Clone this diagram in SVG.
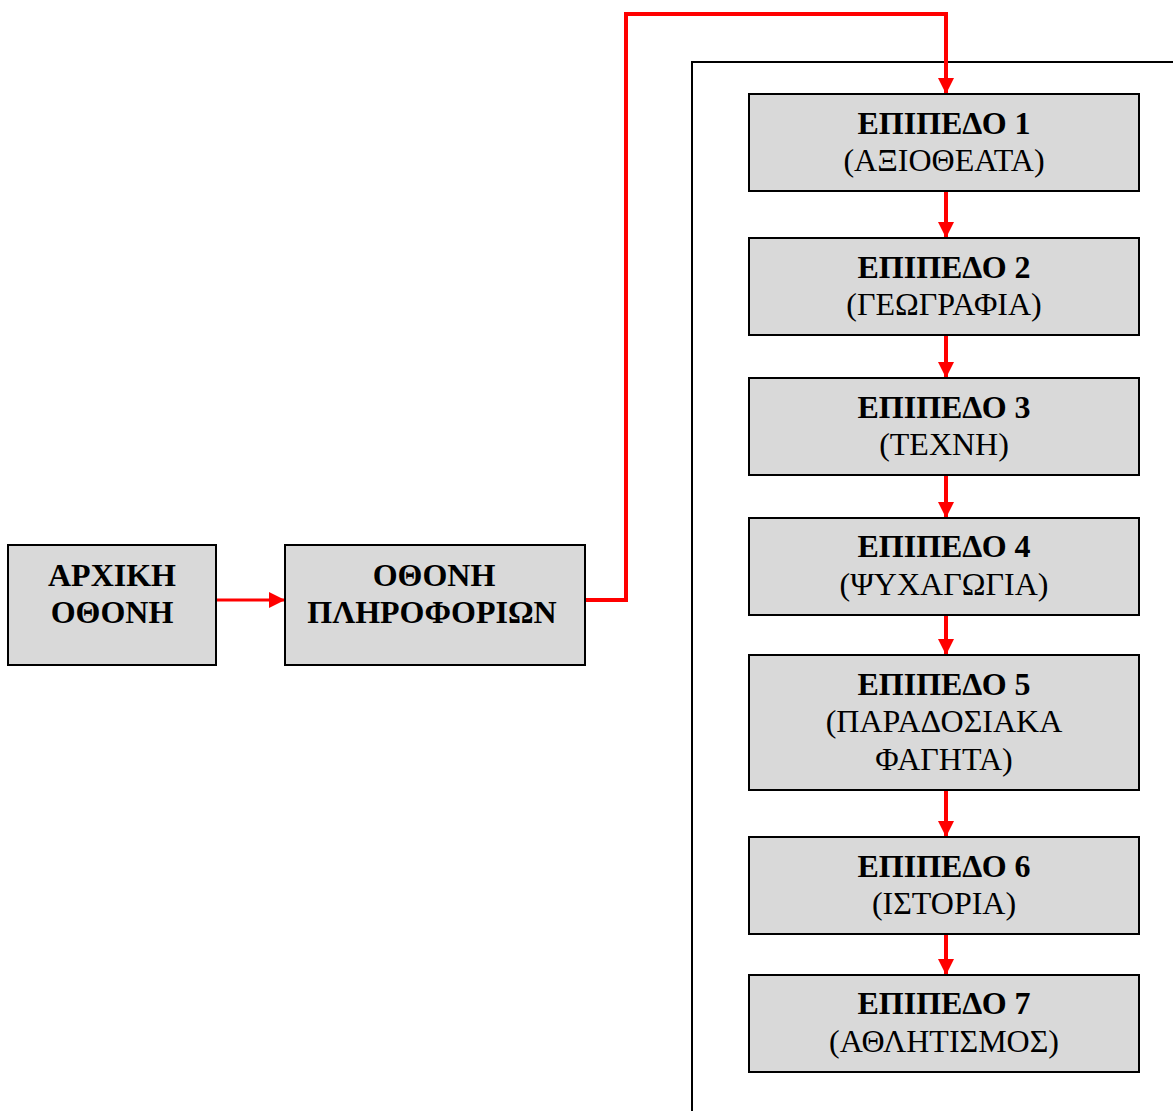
<svg xmlns="http://www.w3.org/2000/svg" width="1173" height="1111" viewBox="0 0 1173 1111">
<style>
.box{fill:#d9d9d9;stroke:#000;stroke-width:2}
.t{font-family:"Liberation Serif","Times New Roman",serif;font-size:32px;text-anchor:middle;fill:#000}
.b{font-weight:bold}
.c{fill:none;stroke:#ff0000;stroke-width:4}
.c2{fill:none;stroke:#ff0000;stroke-width:3}
</style>
<defs>
<marker id="ah" viewBox="0 0 10 10" refX="10" refY="5" markerUnits="userSpaceOnUse" markerWidth="16" markerHeight="16" orient="auto">
<path d="M0,0 L10,5 L0,10 Z" fill="#ff0000"/>
</marker>
</defs>
<g id="frame">
<path d="M692,1111 V62 H1173" fill="none" stroke="#000" stroke-width="2"/>
</g>
<g id="connectors">
<path class="c2" d="M216,600 H285" marker-end="url(#ah)"/>
<path class="c" d="M585,600 H626 V14 H946 V94" marker-end="url(#ah)"/>
<path class="c" d="M946,191 V238" marker-end="url(#ah)"/>
<path class="c" d="M946,335 V378" marker-end="url(#ah)"/>
<path class="c" d="M946,475 V518" marker-end="url(#ah)"/>
<path class="c" d="M946,615 V655" marker-end="url(#ah)"/>
<path class="c" d="M946,790 V837" marker-end="url(#ah)"/>
<path class="c" d="M946,934 V975" marker-end="url(#ah)"/>
</g>
<g id="n-arxiki">
<rect class="box" x="8" y="545" width="208" height="120"/>
<text class="t b" x="112" y="586">ΑΡΧΙΚΗ</text>
<text class="t b" x="112" y="623">ΟΘΟΝΗ</text>
</g>
<g id="n-pliroforion">
<rect class="box" x="285" y="545" width="300" height="120"/>
<text class="t b" x="434" y="586">ΟΘΟΝΗ</text>
<text class="t b" x="432" y="623">ΠΛΗΡΟΦΟΡΙΩΝ</text>
</g>
<g id="n-level1">
<rect class="box" x="749" y="94" width="390" height="97"/>
<text class="t b" x="944" y="134">ΕΠΙΠΕΔΟ 1</text>
<text class="t" x="944" y="171">(ΑΞΙΟΘΕΑΤΑ)</text>
</g>
<g id="n-level2">
<rect class="box" x="749" y="238" width="390" height="97"/>
<text class="t b" x="944" y="278">ΕΠΙΠΕΔΟ 2</text>
<text class="t" x="944" y="315">(ΓΕΩΓΡΑΦΙΑ)</text>
</g>
<g id="n-level3">
<rect class="box" x="749" y="378" width="390" height="97"/>
<text class="t b" x="944" y="418">ΕΠΙΠΕΔΟ 3</text>
<text class="t" x="944" y="455">(ΤΕΧΝΗ)</text>
</g>
<g id="n-level4">
<rect class="box" x="749" y="518" width="390" height="97"/>
<text class="t b" x="944" y="557">ΕΠΙΠΕΔΟ 4</text>
<text class="t" x="944" y="595">(ΨΥΧΑΓΩΓΙΑ)</text>
</g>
<g id="n-level5">
<rect class="box" x="749" y="655" width="390" height="135"/>
<text class="t b" x="944" y="695">ΕΠΙΠΕΔΟ 5</text>
<text class="t" x="944" y="732">(ΠΑΡΑΔΟΣΙΑΚΑ</text>
<text class="t" x="944" y="770">ΦΑΓΗΤΑ)</text>
</g>
<g id="n-level6">
<rect class="box" x="749" y="837" width="390" height="97"/>
<text class="t b" x="944" y="877">ΕΠΙΠΕΔΟ 6</text>
<text class="t" x="944" y="914">(ΙΣΤΟΡΙΑ)</text>
</g>
<g id="n-level7">
<rect class="box" x="749" y="975" width="390" height="97"/>
<text class="t b" x="944" y="1014">ΕΠΙΠΕΔΟ 7</text>
<text class="t" x="944" y="1052">(ΑΘΛΗΤΙΣΜΟΣ)</text>
</g>
</svg>
